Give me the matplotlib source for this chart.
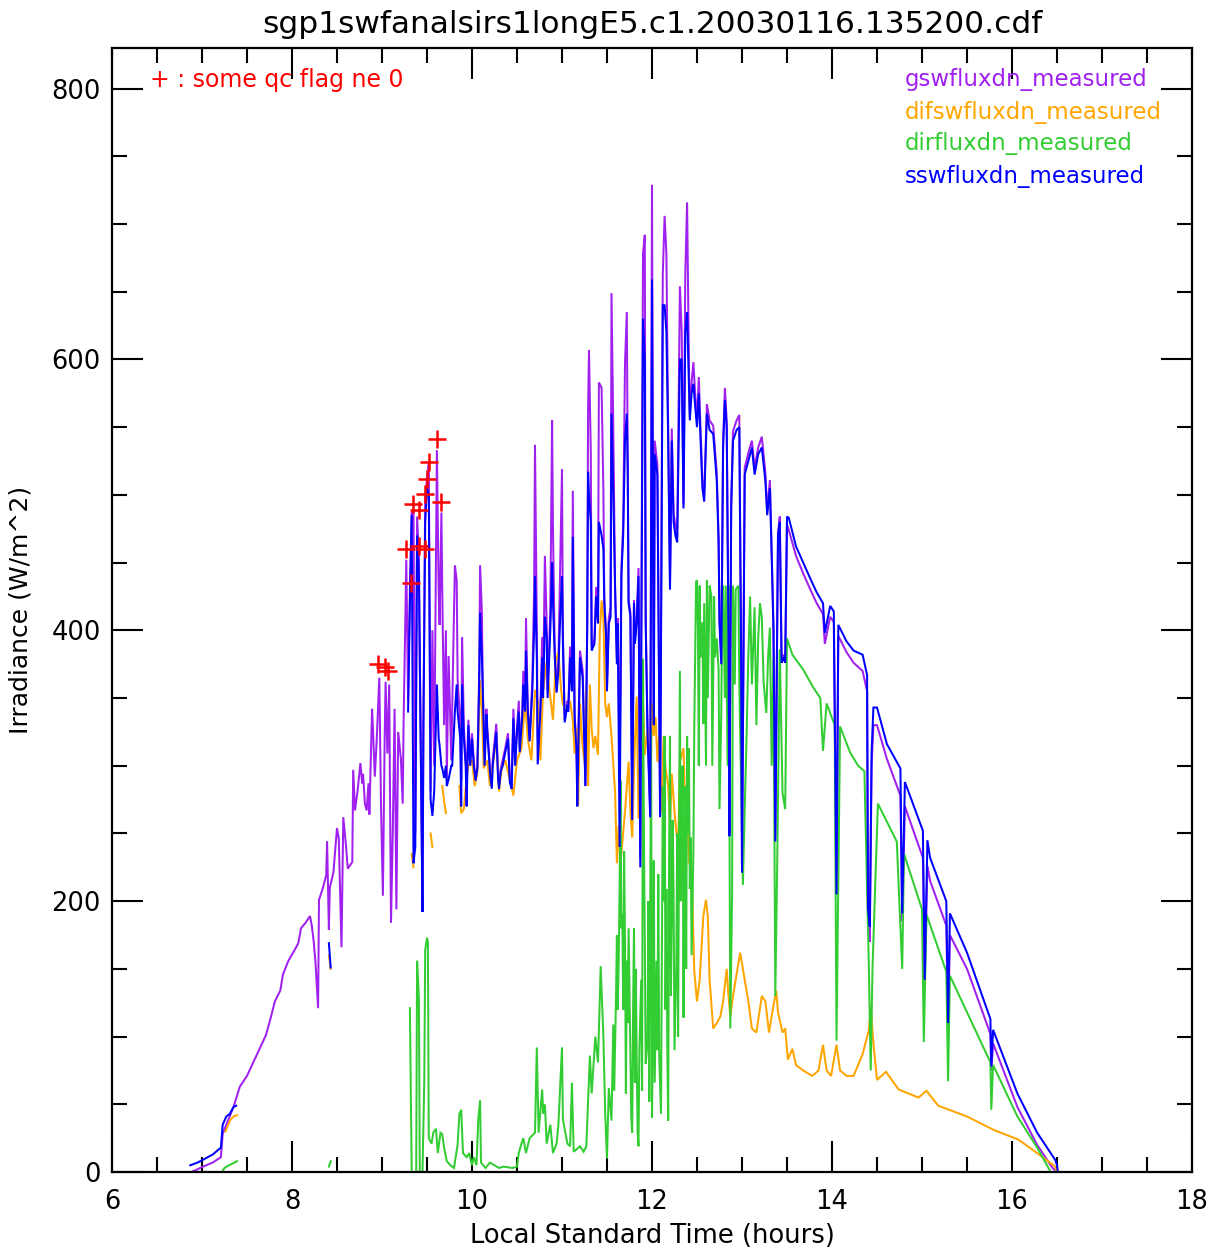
import numpy as np
import matplotlib
matplotlib.use("Agg")
import matplotlib.pyplot as plt
from matplotlib.ticker import MultipleLocator

nan = np.nan

# ---------------- data ----------------
# gswfluxdn_measured (purple)
gsw_time = [6.88, 6.95, 7.01, 7.12, 7.21, 7.23, 7.27, 7.35, 7.42, 7.5, 7.57, 7.64, 7.71, 7.76, 7.81,
            7.87, 7.9, 7.96, 8.03, 8.07, 8.1, 8.15, 8.2, 8.22, 8.24, 8.26, 8.29, 8.3, 8.34, 8.38,
            8.39, 8.41, 8.42, 8.46, 8.5, 8.52, 8.55, 8.57, 8.6, 8.62, 8.67, 8.68, 8.7, 8.73, 8.76,
            8.78, 8.79, 8.81, 8.83, 8.85, 8.86, 8.89, 8.9, 8.92, 8.94, 8.97, 8.99, 9.01, 9.03, 9.04,
            9.06, 9.08, 9.1, 9.12, 9.14, 9.16, 9.18, 9.21, 9.23, 9.24, 9.27,
            9.29, 9.31, 9.33, 9.35, 9.37, 9.39, 9.41, 9.42, 9.44, 9.45, 9.46, 9.48, 9.5, 9.52, 9.54,
            9.56, 9.58, 9.61, 9.63, 9.64, 9.66, 9.67, 9.69, 9.71, 9.72, 9.74, 9.77, 9.78, 9.81, 9.83,
            9.84, 9.87, 9.88, 9.89, 9.91, 9.93, 9.94, 9.96, 9.98, 10.0, 10.02, 10.04, 10.06, 10.08,
            10.09, 10.11, 10.12, 10.14, 10.16, 10.17, 10.2, 10.22, 10.23, 10.27, 10.29, 10.3, 10.32,
            10.34, 10.37, 10.4, 10.42, 10.44, 10.46, 10.48, 10.5, 10.52, 10.53, 10.56, 10.57, 10.59,
            10.6, 10.62, 10.64, 10.67, 10.69, 10.7, 10.72, 10.73, 10.76, 10.78, 10.79, 10.81, 10.83,
            10.84, 10.87, 10.89, 10.9, 10.92, 10.94, 10.96, 10.98, 11.0, 11.01, 11.03, 11.06, 11.07,
            11.09, 11.11, 11.12, 11.14, 11.16, 11.17, 11.2, 11.23, 11.26, 11.28, 11.29, 11.3, 11.32,
            11.33, 11.36, 11.38, 11.4, 11.41, 11.44, 11.46, 11.47, 11.49, 11.5, 11.52, 11.54, 11.55,
            11.57, 11.59, 11.61, 11.62, 11.64, 11.66, 11.68, 11.7, 11.72, 11.73, 11.74, 11.76, 11.78,
            11.8, 11.81, 11.83, 11.85, 11.87, 11.88, 11.9, 11.92, 11.93, 11.95, 11.98, 12.0, 12.02,
            12.03, 12.06, 12.09, 12.12, 12.14, 12.16, 12.18, 12.2, 12.22, 12.24, 12.26, 12.28, 12.31,
            12.33, 12.35, 12.37, 12.39, 12.41, 12.42, 12.44, 12.46, 12.48, 12.5, 12.52, 12.54, 12.56,
            12.58, 12.61, 12.64, 12.68, 12.72, 12.74, 12.75, 12.77, 12.79, 12.81, 12.83, 12.85, 12.86,
            12.88, 12.9, 12.94, 12.97, 12.99, 13.0, 13.03, 13.07, 13.11, 13.14, 13.18, 13.22, 13.26,
            13.28, 13.31, 13.33, 13.35, 13.37, 13.4, 13.42, 13.44, 13.46, 13.48, 13.5,
            13.52, 13.6, 13.68, 13.76, 13.83, 13.9, 13.92, 13.98, 14.02, 14.05, 14.07, 14.16, 14.24,
            14.34, 14.39, 14.4, 14.42, 14.44, 14.46, 14.5, 14.61, 14.76, 14.78, 14.81, 15.01, 15.03,
            15.06, 15.09, 15.27, 15.29, 15.31, 15.5, 15.76, 15.77, 15.79, 16.06, 16.28, 16.45, 16.5]
gsw_vals = [0, 2, 4, 7, 11, 28, 35, 48, 63, 71, 81, 91, 101, 113, 126,
            134, 146, 156, 164, 169, 180, 184, 189, 182, 171, 156, 121, 201, 209, 219,
            244, 179, 210, 221, 254, 246, 166, 262, 241, 224, 229, 297, 267, 282, 302,
            287, 294, 272, 267, 287, 264, 342, 327, 292, 317, 365, 267, 204, 322, 362,
            309, 360, 184, 252, 342, 194, 325, 305, 272, 332, 452,
            348, 430, 487, 488, 250, 484, 455, 382, 255, 192, 328, 498, 512, 523, 281,
            400, 300, 533, 428, 404, 487, 428, 330, 400, 291, 381, 304, 342, 448, 437,
            364, 331, 290, 395, 328, 304, 290, 334, 303, 324, 304, 289, 300, 370,
            448, 413, 359, 304, 342, 328, 298, 285, 304, 331, 294, 285, 298,
            304, 313, 324, 291, 285, 342, 304, 328, 348, 313, 342, 370, 342,
            409, 342, 320, 363, 427, 537, 404, 320, 342, 395, 356, 455, 404,
            356, 413, 555, 473, 384, 356, 377, 448, 519, 398, 334, 348, 342,
            388, 356, 503, 340, 313, 289, 385, 370, 285, 403, 564, 607, 531,
            389, 393, 432, 409, 583, 579, 503, 423, 399, 360, 409, 417, 649,
            549, 432, 379, 409, 294, 446, 479, 597, 635, 531, 422, 413, 266,
            422, 393, 409, 446, 232, 379, 678, 692, 409, 331, 266, 729, 331,
            540, 522, 266, 663, 706, 678, 549, 436, 549, 486, 478, 469, 654,
            621, 493, 663, 716, 597, 560, 583, 598, 574, 555, 587, 547, 511,
            500, 567, 555, 551, 516, 469, 410, 378, 540, 579, 555, 398, 250,
            496, 547, 555, 559, 386, 225, 520, 531, 540, 520, 535, 543, 516,
            488, 511, 457, 402, 246, 472, 484, 378, 382, 378, 478,
            474, 455, 442, 430, 420, 412, 390, 410, 406, 205, 396, 384, 376,
            370, 355, 185, 170, 300, 330, 330, 305, 278, 185, 270, 232, 138,
            226, 215, 182, 106, 175, 150, 102, 75, 95, 48, 20, 3, 0]

# difswfluxdn_measured (orange); nan = no data
dif_time = [7.26, 7.28, 7.31, 7.35, 7.39, 7.4, 8.41, 8.43, 8.44, 9.33, 9.35, 9.36, 9.54, 9.56, 9.57,
            9.67, 9.69, 9.71, 9.72,
            9.86, 9.88, 9.91, 9.94, 9.96, 10.0, 10.03, 10.06, 10.09, 10.11, 10.13, 10.17, 10.2, 10.27,
            10.3, 10.33, 10.37, 10.42, 10.46, 10.5, 10.55, 10.59, 10.62, 10.66, 10.7, 10.73, 10.76,
            10.79, 10.83, 10.86, 10.9, 10.93, 10.96, 10.99, 11.01, 11.05, 11.09, 11.12, 11.14, 11.16,
            11.18, 11.2, 11.23, 11.25, 11.27, 11.29, 11.31, 11.33, 11.35, 11.37, 11.4, 11.42, 11.44,
            11.46, 11.48, 11.5, 11.52, 11.55, 11.59, 11.61, 11.63, 11.65, 11.7, 11.72, 11.74, 11.76,
            11.78, 11.8, 11.81, 11.83, 11.85, 11.87, 11.9, 11.92, 11.95, 11.98, 12.0, 12.02, 12.04,
            12.06, 12.08, 12.1, 12.13, 12.15, 12.18, 12.2, 12.22, 12.25, 12.29, 12.31, 12.35, 12.37,
            12.39, 12.41, 12.43, 12.45, 12.47, 12.5, 12.53, 12.57, 12.6, 12.62, 12.64, 12.68, 12.72,
            12.76, 12.79, 12.83, 12.85, 12.87, 12.9, 12.95, 12.98, 13.02, 13.07, 13.11, 13.16, 13.22,
            13.26, 13.3, 13.35, 13.38, 13.4, 13.45, 13.48, 13.51, 13.56, 13.6, 13.68, 13.78, 13.85,
            13.9, 13.94, 13.99, 14.05, 14.09, 14.16, 14.24, 14.34, 14.41, 14.43, 14.46, 14.5, 14.6,
            14.74, 14.96, 15.05, 15.18, 15.5, 15.8, 16.07, 16.3, 16.48, 16.5]
dif_vals = [30, 33, 38, 41, 42, nan, 160, 150, nan, 235, 225, nan, 250, 240, nan,
            285, 274, 265, nan,
            285, 265, 268, 291, 300, 304, 285, 295, 363, 342, 298, 304, 285, 320,
            281, 298, 304, 290, 278, 304, 313, 348, 320, 304, 356, 348, 304,
            356, 377, 356, 334, 377, 384, 356, 345, 342, 348, 334, 309, 328,
            270, 346, 313, 303, 356, 285, 360, 327, 313, 322, 308, 399, 422,
            409, 346, 336, 346, 322, 280, 228, 256, 228, 266, 285, 303, 266,
            247, 294, 318, 351, 261, 313, 346, 308, 327, 275, 346, 322, 336,
            303, 322, 266, 322, 299, 285, 256, 294, 266, 237, 303, 313, 266,
            285, 228, 242, 199, 148, 126, 142, 189, 201, 189, 142, 106, 110,
            115, 126, 150, 130, 115, 130, 150, 162, 146, 126, 106, 103, 130,
            126, 103, 123, 134, 118, 103, 106, 83, 91, 79, 75, 71, 75,
            94, 75, 71, 94, 75, 71, 71, 87, 105, 122, 95, 68, 74,
            61, 55, 60, 49, 41, 31, 24, 13, 4, 0]

# dirfluxdn_measured (green); nan = no data
dir_time = [6.88, 7.22, 7.25, 7.3, 7.39, 7.4, 8.41, 8.43, 8.44,
            9.31, 9.32, 9.33, 9.35, 9.38, 9.39, 9.41, 9.42, 9.45, 9.47, 9.48, 9.5, 9.51, 9.52, 9.55,
            9.57, 9.6, 9.62, 9.65, 9.67, 9.69, 9.72, 9.76, 9.8, 9.84, 9.86, 9.88, 9.9, 9.94, 9.97,
            10.0, 10.02, 10.05, 10.07, 10.09, 10.1, 10.15, 10.2, 10.3, 10.35, 10.45, 10.5, 10.52,
            10.55, 10.57, 10.6, 10.64, 10.7, 10.72, 10.74, 10.78, 10.79, 10.81, 10.83, 10.87, 10.9,
            10.94, 10.96, 11.0, 11.01, 11.06, 11.09, 11.11, 11.13, 11.2, 11.24, 11.27, 11.31, 11.33,
            11.37, 11.4, 11.43, 11.46, 11.48, 11.5, 11.52, 11.55, 11.57, 11.58, 11.6, 11.61, 11.62,
            11.63, 11.64, 11.65, 11.66, 11.67, 11.68, 11.69, 11.7, 11.71, 11.72, 11.73, 11.74, 11.76,
            11.77, 11.78, 11.79, 11.8, 11.81, 11.82, 11.83, 11.84, 11.85, 11.86, 11.88, 11.89, 11.9,
            11.91, 11.92, 11.93, 11.95, 11.96, 11.97, 11.99, 12.0, 12.01, 12.02, 12.03, 12.05, 12.06,
            12.07, 12.08, 12.1, 12.11, 12.12, 12.13, 12.14, 12.15, 12.16, 12.17, 12.18, 12.19, 12.2,
            12.21, 12.22, 12.23, 12.24, 12.25, 12.27, 12.28, 12.29, 12.31, 12.32, 12.33, 12.34, 12.35,
            12.36, 12.37, 12.38, 12.39, 12.4, 12.41, 12.42, 12.43, 12.44, 12.46, 12.47, 12.49,
            12.5, 12.51, 12.52, 12.53, 12.54, 12.56, 12.57, 12.58, 12.6, 12.61, 12.62, 12.64, 12.66,
            12.67, 12.69, 12.7, 12.72, 12.74, 12.75, 12.77, 12.78, 12.79, 12.81, 12.82, 12.84, 12.85,
            12.87, 12.89, 12.9, 12.92, 12.93, 12.96, 12.97, 13.0, 13.01, 13.03, 13.05, 13.07, 13.09,
            13.11, 13.14, 13.16, 13.18, 13.2, 13.22, 13.24, 13.27, 13.29, 13.31, 13.33, 13.35, 13.37,
            13.39, 13.42, 13.45, 13.48, 13.5,
            13.56, 13.68, 13.79, 13.87, 13.9, 13.94, 14.03, 14.05, 14.09, 14.2, 14.29, 14.36, 14.41,
            14.43, 14.45, 14.51, 14.54, 14.72, 14.78, 14.8, 15.0, 15.02, 15.05, 15.27, 15.29, 15.31,
            15.76, 15.77, 15.79, 16.06, 16.28, 16.43, 16.5]
dir_vals = [0, 0, 3, 5, 8, nan, 4, 8, nan,
            121, 60, 0, 0, 0, 156, 128, 0, 0, 68, 164, 173, 170, 25, 21,
            29, 32, 14, 29, 28, 18, 8, 5, 3, 20, 43, 46, 14, 11, 14,
            5, 11, 5, 39, 53, 7, 3, 7, 3, 4, 3, 4, 14,
            21, 25, 14, 25, 29, 92, 29, 61, 43, 50, 21, 35, 14,
            21, 35, 92, 39, 21, 19, 66, 15, 19, 15, 19, 86, 58,
            100, 81, 152, 100, 43, 10, 62, 38, 109, 60, 128, 175, 120,
            156, 210, 289, 180, 190, 120, 237, 170, 58, 156, 110, 180, 86,
            40, 29, 120, 180, 66, 150, 86, 30, 19, 90, 142, 60, 379,
            250, 170, 80, 95, 200, 52, 327, 40, 100, 230, 66, 156, 90,
            220, 86, 43, 160, 285, 200, 322, 120, 209, 90, 38, 230, 322,
            130, 190, 260, 204, 90, 152, 250, 100, 370, 200, 237, 300, 114,
            230, 285, 150, 322, 250, 313, 209, 247, 160, 237, 330, 436,
            437, 402, 300, 433, 380, 406, 331, 420, 300, 437, 350, 433, 425,
            300, 425, 380, 394, 371, 268, 339, 420, 433, 350, 433, 300, 433,
            106, 205, 433, 360, 430, 433, 362, 252, 212, 268, 319, 380, 425,
            360, 417, 330, 394, 420, 410, 362, 339, 380, 402, 300, 380, 130,
            221, 386, 280, 268, 394,
            382, 371, 358, 350, 311, 346, 330, 97, 329, 310, 300, 296, 150,
            75, 150, 272, 268, 244, 150, 235, 194, 96, 190, 148, 67, 145,
            81, 46, 79, 41, 18, 0, 0]

# sswfluxdn_measured (blue); nan = no data
ssw_time = [6.87, 6.95, 7.01, 7.12, 7.21, 7.23, 7.27, 7.31, 7.35, 7.38, 7.39, 8.41, 8.42, 8.43, 8.44,
            9.29, 9.31, 9.33, 9.35, 9.37, 9.39, 9.41, 9.42, 9.44, 9.45, 9.46, 9.48, 9.5, 9.52, 9.54,
            9.56, 9.58, 9.61, 9.63, 9.64, 9.66, 9.67, 9.69, 9.71, 9.72, 9.74, 9.77, 9.78, 9.81, 9.83,
            9.84, 9.87, 9.88, 9.89, 9.91, 9.93, 9.94, 9.96, 9.98, 10.0, 10.02, 10.04, 10.06, 10.08,
            10.09, 10.11, 10.12, 10.14, 10.16, 10.17, 10.2, 10.22, 10.23, 10.27, 10.29, 10.3, 10.32,
            10.34, 10.37, 10.4, 10.42, 10.44, 10.46, 10.48, 10.5, 10.52, 10.53, 10.56, 10.57, 10.59,
            10.6, 10.62, 10.64, 10.67, 10.69, 10.7, 10.72, 10.73, 10.76, 10.78, 10.79, 10.81, 10.83,
            10.84, 10.87, 10.89, 10.9, 10.92, 10.94, 10.96, 10.98, 11.0, 11.01, 11.03, 11.06, 11.07,
            11.09, 11.11, 11.12, 11.14, 11.16, 11.17, 11.2, 11.23, 11.26, 11.28, 11.29, 11.3, 11.32,
            11.33, 11.36, 11.38, 11.4, 11.41, 11.44, 11.46, 11.47, 11.49, 11.5, 11.52, 11.54, 11.55,
            11.57, 11.59, 11.61, 11.62, 11.64, 11.66, 11.68, 11.7, 11.72, 11.73, 11.74, 11.76, 11.78,
            11.8, 11.81, 11.83, 11.85, 11.87, 11.88, 11.9, 11.92, 11.93, 11.95, 11.98, 12.0, 12.02,
            12.03, 12.06, 12.09, 12.12, 12.14, 12.16, 12.18, 12.2, 12.22, 12.24, 12.26, 12.28, 12.31,
            12.33, 12.35, 12.37, 12.39, 12.41, 12.42, 12.44, 12.46, 12.48, 12.5, 12.52, 12.54, 12.56,
            12.58, 12.61, 12.64, 12.68, 12.72, 12.74, 12.75, 12.77, 12.79, 12.81, 12.83, 12.85, 12.86,
            12.88, 12.9, 12.94, 12.97, 12.99, 13.0, 13.03, 13.07, 13.11, 13.14, 13.18, 13.22, 13.26,
            13.28, 13.31, 13.33, 13.35, 13.37, 13.4, 13.42, 13.44, 13.46, 13.48, 13.5,
            13.52, 13.6, 13.68, 13.76, 13.83, 13.9, 13.92, 13.98, 14.02, 14.05, 14.07, 14.16, 14.24,
            14.34, 14.39, 14.4, 14.42, 14.44, 14.46, 14.5, 14.61, 14.76, 14.78, 14.81, 15.01, 15.03,
            15.06, 15.09, 15.27, 15.29, 15.31, 15.5, 15.76, 15.77, 15.79, 16.06, 16.28, 16.48, 16.5,
            16.51]
ssw_vals = [5, 7, 9, 13, 18, 35, 41, 43, 48, 49, nan, 169, 160, 151, nan,
            340, 420, 485, 228, 240, 470, 440, 380, 255, 192, 328, 480, 505, 500, 275,
            263, 281, 360, 320, 315, 300, 298, 291, 300, 285, 290, 300, 300, 340, 360,
            340, 320, 270, 360, 320, 300, 270, 330, 300, 320, 300, 289, 298, 360,
            413, 380, 355, 300, 338, 325, 295, 283, 300, 325, 290, 283, 296,
            300, 310, 320, 288, 283, 335, 300, 325, 340, 310, 338, 360, 340,
            385, 340, 318, 355, 400, 440, 380, 301, 340, 380, 350, 410, 395,
            350, 400, 450, 420, 380, 354, 370, 410, 440, 390, 332, 345, 340,
            380, 355, 469, 335, 313, 270, 380, 365, 285, 400, 517, 500, 480,
            385, 390, 425, 405, 480, 470, 460, 420, 395, 355, 405, 410, 560,
            500, 430, 375, 405, 240, 440, 470, 540, 560, 520, 420, 410, 260,
            420, 390, 405, 440, 225, 375, 630, 600, 405, 325, 262, 659, 330,
            530, 515, 262, 640, 640, 620, 540, 430, 540, 480, 470, 465, 600,
            600, 490, 620, 635, 580, 555, 575, 582, 565, 550, 575, 540, 505,
            495, 560, 548, 545, 510, 465, 405, 375, 535, 570, 550, 395, 248,
            490, 540, 548, 550, 380, 221, 515, 525, 535, 515, 530, 535, 510,
            485, 505, 455, 400, 244, 470, 480, 376, 380, 376, 484,
            483, 462, 450, 438, 428, 420, 398, 418, 414, 205, 404, 392, 385,
            382, 367, 195, 181, 310, 343, 343, 316, 298, 191, 288, 252, 142,
            245, 232, 200, 110, 191, 162, 113, 78, 105, 58, 29, 9, 5,
            0]

# points with some qc flag ne 0 (red crosses)
qc_time = [8.96, 9.03, 9.07, 9.27, 9.32, 9.35, 9.41, 9.41, 9.48, 9.48, 9.50, 9.52, 9.61, 9.66]
qc_vals = [375, 373, 370, 460, 435, 493, 489, 462, 460, 501, 512, 524, 541, 495]

title = "sgp1swfanalsirs1longE5.c1.20030116.135200.cdf"
legend_names = ["gswfluxdn_measured", "difswfluxdn_measured", "dirfluxdn_measured", "sswfluxdn_measured"]
colors = ["#A020F0", "#FFA500", "#32CD32", "#0000FF"]

# ---------------- figure ----------------
plt.rcParams['font.family'] = ['DejaVu Sans']
fig = plt.figure(figsize=(12.12, 12.55), dpi=100)
ax = fig.add_axes([0.0924, 0.0661, 0.8911, 0.8957])

series = [(gsw_time, gsw_vals), (dif_time, dif_vals), (dir_time, dir_vals), (ssw_time, ssw_vals)]
for (t, v), c in zip(series, colors):
    ax.plot(t, v, color=c, lw=1.45, solid_joinstyle='miter')

ax.plot(qc_time, qc_vals, linestyle='none', marker='+', color='red', markersize=13, mew=1.8)

ax.set_xlim(6, 18)
ax.set_ylim(0, 830)
ax.xaxis.set_major_locator(MultipleLocator(2))
ax.xaxis.set_minor_locator(MultipleLocator(0.5))
ax.yaxis.set_major_locator(MultipleLocator(200))
ax.yaxis.set_minor_locator(MultipleLocator(50))
ax.tick_params(which='both', direction='in', top=True, right=True, width=1.5, color='black')
ax.tick_params(which='major', length=22, labelsize=18.5)
ax.tick_params(axis='x', which='major', pad=12)
ax.tick_params(axis='y', which='major', pad=8)
ax.tick_params(which='minor', length=11)
for s in ax.spines.values():
    s.set_linewidth(1.6)

ax.set_title(title, fontsize=22.5, pad=11)
ax.set_xlabel("Local Standard Time (hours)", fontsize=18.5, labelpad=6)
ax.set_ylabel("Irradiance (W/m^2)", fontsize=18, labelpad=14)

ax.text(0.035, 0.9715, "+ : some qc flag ne 0", color='red', fontsize=17,
        transform=ax.transAxes, va='center', ha='left')
ys = [0.9715, 0.943, 0.9146, 0.886]
for name, c, y in zip(legend_names, colors, ys):
    ax.text(0.734, y, name, color=c, fontsize=16.5, transform=ax.transAxes, va='center', ha='left')

fig.savefig("out.png", dpi=100)
